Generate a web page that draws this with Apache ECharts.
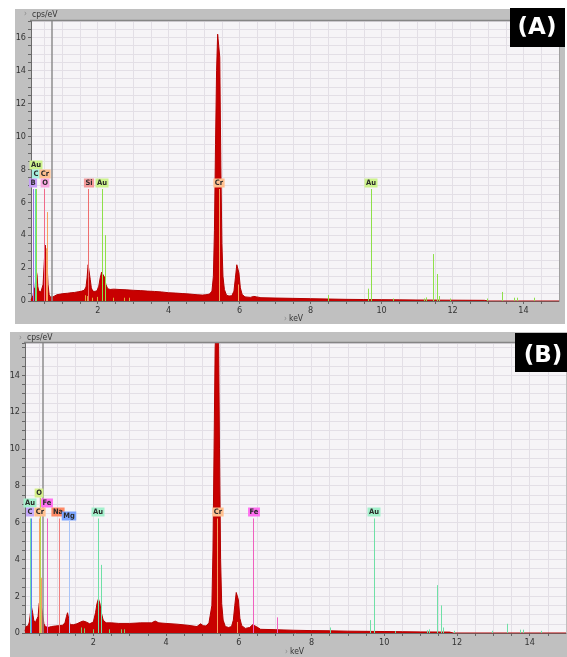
<!DOCTYPE html>
<html><head><meta charset="utf-8">
<script src="https://cdn.jsdelivr.net/npm/echarts@6/dist/echarts.min.js"></script>
<style>html,body{margin:0;padding:0;background:#fff}#c{width:567px;height:657px}</style>
</head><body><div id="c"></div>
<script>
// ---------- DATA ----------
const xLabelValues = [2, 4, 6, 8, 10, 12, 14];
const xTickValues = [0.5,1,1.5,2,2.5,3,3.5,4,4.5,5,5.5,6,6.5,7,7.5,8,8.5,9,9.5,10,10.5,11,11.5,12,12.5,13,13.5,14,14.5];
const yLabelValuesA = [0, 2, 4, 6, 8, 10, 12, 14, 16];
const yLabelValuesB = [0, 2, 4, 6, 8, 10, 12, 14];

// spectrum A: [keV, cps/eV]
const spectrumA = [
 [0.12,0.05],[0.15,0.15],[0.18,0.35],[0.21,0.8],[0.23,0.6],[0.25,1.3],[0.27,1.8],[0.29,1.6],[0.31,0.9],
 [0.34,0.6],[0.37,0.5],[0.40,0.55],[0.43,0.6],[0.46,1.0],[0.49,2.2],[0.52,3.4],[0.55,3.3],[0.57,2.4],
 [0.60,1.0],[0.63,0.4],[0.66,0.25],[0.70,0.15],[0.74,0.25],[0.78,0.35],[0.85,0.38],[0.95,0.42],
 [1.05,0.45],[1.15,0.47],[1.25,0.5],[1.35,0.52],[1.45,0.56],[1.55,0.6],[1.62,0.65],[1.67,0.85],
 [1.70,1.4],[1.73,2.2],[1.76,2.1],[1.79,1.3],[1.82,0.8],[1.86,0.6],[1.92,0.58],[1.98,0.62],
 [2.03,0.9],[2.07,1.4],[2.11,1.75],[2.15,1.6],[2.19,1.45],[2.23,1.0],[2.28,0.75],[2.35,0.7],
 [2.45,0.72],[2.60,0.7],[2.80,0.68],[3.00,0.65],[3.20,0.63],[3.40,0.6],[3.60,0.58],[3.80,0.55],
 [4.00,0.5],[4.20,0.48],[4.40,0.45],[4.60,0.42],[4.80,0.38],[4.95,0.36],[5.05,0.38],[5.15,0.42],
 [5.22,0.6],[5.26,1.5],[5.29,4.3],[5.32,9.5],[5.35,14.0],[5.38,16.2],[5.41,16.2],[5.44,14.8],
 [5.47,8.2],[5.50,3.5],[5.53,1.5],[5.57,0.7],[5.63,0.35],[5.70,0.3],[5.78,0.32],[5.84,0.6],[5.88,1.4],
 [5.92,2.2],[5.95,2.25],[5.98,1.7],[6.02,0.8],[6.07,0.4],[6.15,0.25],[6.30,0.22],[6.40,0.28],
 [6.48,0.25],[6.60,0.2],[7.00,0.18],[7.50,0.16],[8.00,0.14],[8.50,0.12],[9.00,0.1],[9.50,0.09],
 [10.00,0.08],[10.50,0.07],[11.00,0.06],[12.00,0.05],[12.90,0.04],[13.00,0],[15.00,0]
];

// spectrum B: [keV, cps/eV]
const spectrumB = [
 [0.12,0.1],[0.15,0.35],[0.18,0.45],[0.21,0.4],[0.24,0.6],[0.27,1.1],[0.30,1.4],[0.33,1.1],[0.36,0.7],
 [0.40,0.55],[0.44,0.5],[0.48,0.9],[0.51,1.6],[0.54,1.8],[0.57,1.7],[0.60,1.1],[0.64,0.5],[0.68,0.35],
 [0.75,0.3],[0.85,0.35],[0.95,0.38],[1.05,0.4],[1.15,0.42],[1.22,0.55],[1.26,0.9],[1.29,1.1],
 [1.32,0.8],[1.36,0.45],[1.45,0.45],[1.55,0.5],[1.65,0.6],[1.72,0.65],[1.80,0.6],[1.90,0.5],
 [2.00,0.6],[2.06,1.1],[2.10,1.6],[2.14,1.85],[2.18,1.6],[2.22,1.1],[2.27,0.7],[2.35,0.55],
 [2.50,0.55],[2.70,0.52],[3.00,0.52],[3.30,0.55],[3.60,0.55],[3.70,0.65],[3.80,0.55],[4.00,0.52],
 [4.30,0.48],[4.60,0.42],[4.85,0.35],[4.95,0.5],[5.02,0.4],[5.10,0.38],[5.18,0.55],
 [5.22,0.6],[5.26,1.5],[5.29,4.5],[5.32,10],[5.35,15.5],[5.38,17],[5.41,17],[5.44,17],[5.47,10],
 [5.50,4],[5.53,1.6],[5.57,0.7],[5.63,0.35],[5.72,0.3],[5.80,0.35],[5.85,0.7],[5.89,1.5],[5.93,2.2],[5.96,2.3],
 [5.99,1.8],[6.03,0.8],[6.08,0.4],[6.18,0.25],[6.30,0.3],[6.38,0.45],[6.42,0.5],[6.48,0.35],
 [6.60,0.2],[7.00,0.18],[7.50,0.15],[8.00,0.13],[8.50,0.12],[9.00,0.1],[9.50,0.09],[10.00,0.08],
 [10.50,0.07],[11.00,0.06],[11.80,0.05],[11.90,0],[15.00,0]
];

// element marker lines: [element, keV, height]
const markerLinesA = [
 ['B',0.19,6.8],['C',0.235,6.8],['Au',0.26,6.8],['O',0.50,6.8],['Cr',0.56,5.4],['Cr',0.545,3.2],
 ['Si',1.74,6.8],['Au',2.12,6.8],['Au',2.20,4.0],['Cr',5.41,6.8],['Cr',5.95,1.0],
 ['minor',1.65,0.35],['minor',1.70,0.3],['minor',1.83,0.2],['minor',1.98,0.25],['minor',2.42,0.2],['minor',2.75,0.2],['minor',2.87,0.2],
 ['Au',8.50,0.36],['Au',9.63,0.75],['Au',9.71,6.8],['Au',10.31,0.15],['Au',11.20,0.15],['Au',11.25,0.22],
 ['Au',11.44,2.85],['Au',11.56,1.64],['Au',11.62,0.3],['Au',11.92,0.15],['Au',12.97,0.15],['Au',13.38,0.55],
 ['Au',13.73,0.2],['Au',13.81,0.2],['Au',14.30,0.2]
];
const markerLinesB = [
 ['Au',0.26,6.22],['C',0.28,6.22],['Cr',0.50,6.22],['O',0.535,7.35],['Cr',0.57,3.0],['Fe',0.72,6.22],
 ['Na',1.05,6.22],['Mg',1.34,6.08],['Au',2.13,6.22],['Au',2.20,3.7],['Cr',5.41,6.22],['Cr',5.95,0.6],
 ['Fe',6.40,6.22],['Fe',7.05,0.85],
 ['minor',1.66,0.3],['minor',1.75,0.25],['minor',2.00,0.2],['minor',2.42,0.2],['minor',2.75,0.2],['minor',2.85,0.2],
 ['Au',8.50,0.3],['Au',9.62,0.7],['Au',9.71,6.22],['Au',10.31,0.1],['Au',11.18,0.15],['Au',11.24,0.2],
 ['Au',11.44,2.6],['Au',11.56,1.5],['Au',11.62,0.3],['Au',11.92,0.12],['Au',12.97,0.12],['Au',13.37,0.5],
 ['Au',13.73,0.18],['Au',13.81,0.18],['Au',14.30,0.12]
];
// element labels: [element, keV, cps/eV]
const elementLabelsA = [
 ['Au',0.25,8.27],['C',0.25,7.72],['Cr',0.515,7.72],['B',0.19,7.14],['O',0.515,7.14],
 ['Si',1.75,7.14],['Au',2.11,7.14],['Cr',5.41,7.14],['Au',9.71,7.14]
];
const elementLabelsB = [
 ['O',0.515,7.63],['Au',0.27,7.08],['Fe',0.72,7.08],['C',0.26,6.58],['Cr',0.52,6.58],['Na',1.04,6.58],
 ['Mg',1.33,6.33],['Au',2.14,6.58],['Cr',5.42,6.58],['Fe',6.41,6.58],['Au',9.71,6.58]
];
const cursorA = 0.70;
const cursorB = 0.60;

// ---------- STYLES ----------
const lineColorsA = {B:'#9c6ee6',C:'#5cd8b0',Au:'#8ee04a',O:'#f06a8a',Cr:'#f5a060',Si:'#ee6f6f',minor:'#e0a838'};
const boxColorsA = {B:'#c8a0f8',C:'#a8f0e0',Au:'#ccf28c',O:'#f8a8e0',Cr:'#ffc090',Si:'#f49a9a'};
const lineColorsB = {Au:'#6fe0a6',C:'#5b7ff0',O:'#b8d848',Cr:'#f5a060',Fe:'#f060c0',Na:'#f08080',Mg:'#a8c4f8',minor:'#7ad070'};
const boxColorsB = {Au:'#a4f0cc',C:'#c4a8fa',O:'#d4f08a',Cr:'#ffc090',Fe:'#ff70f0',Na:'#ff8a66',Mg:'#7aa4ff'};
const FONT = '"Liberation Sans Narrow","DejaVu Sans Condensed",sans-serif';

const chart = echarts.init(document.getElementById('c'), null, {renderer:'canvas'});

function xAxisOpt(gi){
  return {type:'value', gridIndex:gi, min:0.12, max:15,
    axisLine:{show:true, lineStyle:{color:'#6a6a6a', width:1}},
    axisTick:{show:true, inside:false, length:3, lineStyle:{color:'#666'}, customValues:xTickValues},
    axisLabel:{customValues:xLabelValues, fontFamily:FONT, fontSize:9, color:'#333', margin:5},
    splitLine:{show:true, lineStyle:{color:'#e3dfe6', width:1}}};
}
function yAxisOpt(gi, max, labels){
  return {type:'value', gridIndex:gi, min:0, max:max, interval:0.5,
    axisLine:{show:true, lineStyle:{color:'#6a6a6a', width:1}},
    axisTick:{show:true, length:3, lineStyle:{color:'#666'}},
    axisLabel:{customValues:labels, fontFamily:FONT, fontSize:9, color:'#333', margin:5},
    splitLine:{show:true, lineStyle:{color:'#e3dfe6', width:1}}};
}
function spectrumSeries(gi, data, cursor){
  return {type:'line', xAxisIndex:gi, yAxisIndex:gi, data:data, showSymbol:false, z:2,
    lineStyle:{color:'#b30000', width:1}, areaStyle:{color:'#c80000', opacity:1}, silent:true, clip:true,
    markLine:{silent:true, symbol:'none', label:{show:false}, lineStyle:{color:'#8e8e8e', width:1.5, type:'solid'},
      data:[{xAxis:cursor}]}};
}
function markerLineSeries(gi, list, colors){
  return {type:'custom', xAxisIndex:gi, yAxisIndex:gi, z:4, clip:true, silent:true,
    data:list.map(d=>[d[1], d[2]]),
    renderItem:(params, api)=>{
      const el = list[params.dataIndex][0];
      const p0 = api.coord([api.value(0), 0]);
      const p1 = api.coord([api.value(0), api.value(1)]);
      const x = Math.round(p0[0]) + 0.5;
      return {type:'line', shape:{x1:x, y1:p0[1], x2:x, y2:p1[1]}, style:{stroke:colors[el], lineWidth:1}};
    }};
}
function labelSeries(gi, list, colors){
  return {type:'custom', xAxisIndex:gi, yAxisIndex:gi, z:6, clip:false, silent:true,
    data:list.map(d=>[d[1], d[2]]),
    renderItem:(params, api)=>{
      const el = list[params.dataIndex][0];
      const p = api.coord([api.value(0), api.value(1)]);
      return {type:'text', x:Math.round(p[0]), y:Math.round(p[1]),
        style:{text:el, font:'bold 7.5px ' + FONT, fill:'#2a2a2a', align:'center', verticalAlign:'middle',
          backgroundColor:colors[el], padding:[1,1.5,0,1.5], lineHeight:8}};
    }};
}

const option = {
  animation:false,
  backgroundColor:'#ffffff',
  grid:[
    {left:31, top:21, width:528, height:280, show:false},
    {left:25, top:343, width:541, height:290, show:false}
  ],
  xAxis:[xAxisOpt(0), xAxisOpt(1)],
  yAxis:[yAxisOpt(0, 17, yLabelValuesA), yAxisOpt(1, 15.75, yLabelValuesB)],
  graphic:[
    // panel A frame
    {type:'rect', z:-100, shape:{x:15, y:9, width:550, height:315}, style:{fill:'#c0c0c0'}},
    {type:'rect', z:-99, shape:{x:31, y:21, width:528, height:280}, style:{fill:'#f6f4f7'}},
    {type:'line', z:50, shape:{x1:30, y1:20.5, x2:559, y2:20.5}, style:{stroke:'#858585', lineWidth:1.5}},
    {type:'line', z:50, shape:{x1:559.5, y1:21, x2:559.5, y2:301}, style:{stroke:'#a0a0a0', lineWidth:1}},
    {type:'text', z:50, x:24, y:14, style:{text:'›', font:'8px ' + FONT, fill:'#888', verticalAlign:'middle'}},
    {type:'text', z:50, x:32, y:14.5, style:{text:'cps/eV', font:'8.5px ' + FONT, fill:'#333', verticalAlign:'middle'}},
    {type:'text', z:50, x:284, y:319, style:{text:'›', font:'8px ' + FONT, fill:'#888', verticalAlign:'middle'}},
    {type:'text', z:50, x:289, y:319, style:{text:'keV', font:'8.5px ' + FONT, fill:'#333', verticalAlign:'middle'}},
    {type:'rect', z:100, shape:{x:510, y:8, width:55, height:39}, style:{fill:'#000'}},
    {type:'text', z:101, x:537, y:28, style:{text:'(A)', font:'bold 23px "DejaVu Sans"', fill:'#fff', align:'center', verticalAlign:'middle'}},
    // panel B frame
    {type:'rect', z:-100, shape:{x:10, y:332, width:557, height:325}, style:{fill:'#c0c0c0'}},
    {type:'rect', z:-99, shape:{x:25, y:343, width:541, height:290}, style:{fill:'#f6f4f7'}},
    {type:'line', z:50, shape:{x1:24, y1:342.5, x2:567, y2:342.5}, style:{stroke:'#858585', lineWidth:1.5}},
    {type:'text', z:50, x:19, y:337.5, style:{text:'›', font:'8px ' + FONT, fill:'#888', verticalAlign:'middle'}},
    {type:'text', z:50, x:27, y:338, style:{text:'cps/eV', font:'8.5px ' + FONT, fill:'#333', verticalAlign:'middle'}},
    {type:'text', z:50, x:285, y:651.5, style:{text:'›', font:'8px ' + FONT, fill:'#888', verticalAlign:'middle'}},
    {type:'text', z:50, x:290, y:651.5, style:{text:'keV', font:'8.5px ' + FONT, fill:'#333', verticalAlign:'middle'}},
    {type:'rect', z:100, shape:{x:515, y:333, width:52, height:39}, style:{fill:'#000'}},
    {type:'text', z:101, x:543, y:356, style:{text:'(B)', font:'bold 23px "DejaVu Sans"', fill:'#fff', align:'center', verticalAlign:'middle'}}
  ],
  series:[
    spectrumSeries(0, spectrumA, cursorA),
    markerLineSeries(0, markerLinesA, lineColorsA),
    labelSeries(0, elementLabelsA, boxColorsA),
    spectrumSeries(1, spectrumB, cursorB),
    markerLineSeries(1, markerLinesB, lineColorsB),
    labelSeries(1, elementLabelsB, boxColorsB)
  ]
};
chart.setOption(option);
</script>
</body></html>
